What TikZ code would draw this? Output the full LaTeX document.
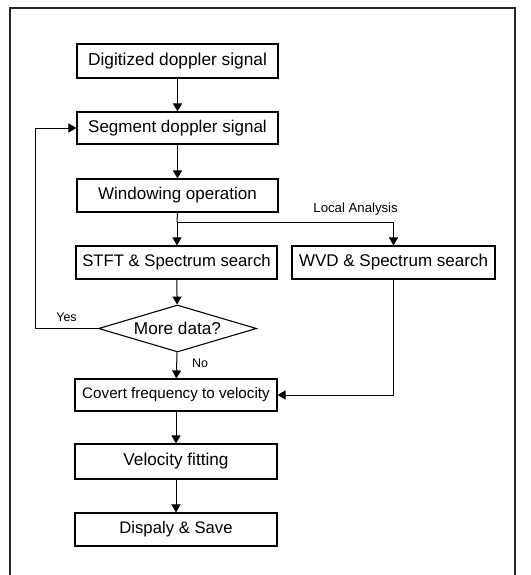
\documentclass[tikz,border=0pt]{standalone}
\usepackage{fontspec}
\setmainfont{Liberation Sans}
\usetikzlibrary{shapes.geometric,arrows.meta}
\begin{document}
\begin{tikzpicture}[x=1pt,y=-1pt,
  box/.style={draw, line width=1.1pt, rectangle, inner sep=0pt, minimum width=201pt, minimum height=33pt, font=\fontsize{17}{20}\selectfont},
  decision/.style={draw, line width=1.1pt, diamond, aspect=3.4, inner sep=0pt, minimum width=158pt, minimum height=47pt, font=\fontsize{17.2}{20}\selectfont},
  lbl/.style={inner sep=0pt, font=\fontsize{12.5}{15}\selectfont},
  conn/.style={line width=1pt},
  arr/.style={conn, -{Triangle[width=9pt,length=8pt]}}]
\useasboundingbox (0,0) rectangle (530,575);
\draw[line width=1.2pt, black!85] (10,576) -- (10,8) -- (515,8) -- (515,576);
\node[box, minimum height=34pt, font=\fontsize{17.3}{20}\selectfont] (dig) at (177.5,61) {Digitized doppler signal};
\node[box, minimum height=32pt] (seg) at (177.5,128) {Segment doppler signal};
\node[box] (win) at (177.5,195.5) {Windowing operation};
\node[box, font=\fontsize{16.7}{20}\selectfont] (stft) at (176.5,262.5) {STFT \& Spectrum search};
\node[box, minimum width=203pt] (wvd) at (393.5,262.5) {WVD \& Spectrum search};
\node[decision] (dia) at (177.5,328.5) {More data?};
\node[box, minimum width=202pt, minimum height=32pt, font=\fontsize{15.2}{18}\selectfont] (cov) at (176,395) {Covert frequency to velocity};
\node[box, minimum width=202pt, minimum height=35pt, font=\fontsize{17.2}{20}\selectfont] (vel) at (176,461.5) {Velocity fitting};
\node[box, minimum width=202pt, font=\fontsize{16.7}{20}\selectfont] (dis) at (176,529.5) {Dispaly \& Save};
\coordinate (br) at (177,222);
\coordinate (lp) at (35,0);
\node[lbl, anchor=east, font=\fontsize{13.2}{15}\selectfont] (la) at (398,209.5) {Local Analysis};
\node[lbl] (yes) at (66.5,317) {Yes};
\node[lbl] (no) at (200,363) {No};
\draw[arr] (dig) -- (seg);
\draw[arr] (seg) -- (win);
\draw[conn] (win.south) -- (br);
\draw[arr] (br) -- (br |- stft.north);
\draw[arr] (br) -| (wvd.north);
\draw[arr] (stft) -- (dia);
\draw[arr] (dia.west) -- (lp |- dia.west) |- (seg.west);
\draw[arr] (dia) -- (cov);
\draw[arr] (wvd.south) |- (cov.east);
\draw[arr] (cov) -- (vel);
\draw[arr] (vel) -- (dis);
\end{tikzpicture}
\end{document}
